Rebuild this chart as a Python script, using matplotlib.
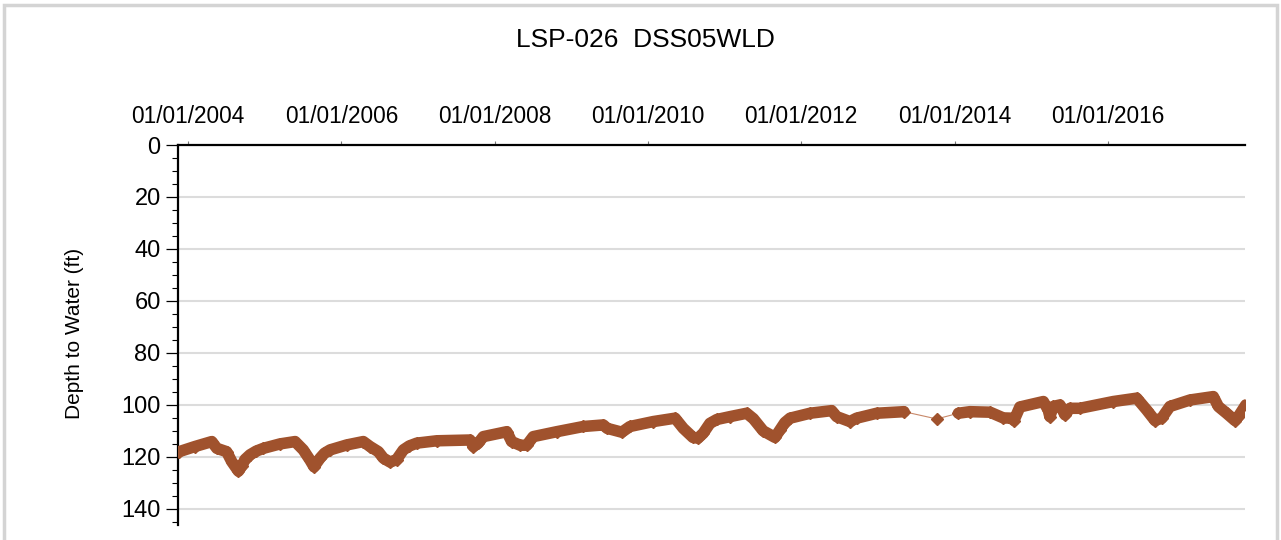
import matplotlib
matplotlib.use('Agg')
import matplotlib.pyplot as plt
import matplotlib.dates as mdates
from matplotlib.ticker import MultipleLocator
from matplotlib.patches import Rectangle
import pandas as pd

plt.rcParams['font.family'] = ['Liberation Sans', 'DejaVu Sans']

title = 'LSP-026  DSS05WLD'
y_label = 'Depth to Water (ft)'

# continuous record up to spring 2013
dates_a = ['2003-11-19', '2004-02-03', '2004-04-23', '2004-05-17', '2004-07-03',
           '2004-07-27', '2004-08-28', '2004-09-13', '2004-09-28', '2004-10-22',
           '2004-11-20', '2004-12-25', '2005-03-14', '2005-05-25', '2005-07-03',
           '2005-08-04', '2005-08-23', '2005-09-21', '2005-10-12', '2005-11-08',
           '2006-01-26', '2006-04-15', '2006-05-17', '2006-06-26', '2006-07-20',
           '2006-08-21', '2006-09-21', '2006-10-23', '2006-11-20', '2006-12-26',
           '2007-03-31', '2007-09-06', '2007-09-22', '2007-10-14', '2007-11-08',
           '2008-02-28', '2008-03-22', '2008-05-01', '2008-06-02', '2008-07-03',
           '2008-10-23', '2009-02-27', '2009-06-02', '2009-06-20', '2009-08-29',
           '2009-10-07', '2010-01-26', '2010-05-10', '2010-06-18', '2010-08-03',
           '2010-08-27', '2010-09-21', '2010-10-23', '2010-11-25', '2011-01-27',
           '2011-04-16', '2011-05-18', '2011-07-04', '2011-08-29', '2011-09-22',
           '2011-10-15', '2011-11-09', '2012-02-12', '2012-05-25', '2012-06-18',
           '2012-08-20', '2012-09-21', '2012-12-26', '2013-05-05']
depth_a = [118.0, 116.0, 114.1, 116.7, 118.0,
           121.8, 125.5, 123.5, 121.0, 119.2,
           117.8, 116.7, 115.0, 114.1, 117.3,
           121.2, 123.8, 120.5, 118.6, 117.3,
           115.4, 114.1, 116.0, 118.0, 120.5,
           122.0, 121.0, 117.3, 115.8, 114.7,
           113.8, 113.5, 116.0, 114.8, 112.2,
           110.3, 114.1, 115.5, 115.5, 112.2,
           110.3, 108.3, 107.7, 109.0, 110.5,
           108.3, 106.4, 105.1, 109.0, 112.5,
           112.8, 110.9, 107.1, 105.6, 104.5,
           103.2, 105.3, 110.0, 112.5, 109.6,
           106.8, 105.1, 103.2, 102.2, 104.5,
           106.4, 105.1, 103.2, 102.6]

# single reading in the gap
dates_gap = ['2013-10-08']
depth_gap = [105.4]

# continuous record from 2014
dates_b = ['2014-01-19', '2014-03-15', '2014-06-19', '2014-08-21', '2014-09-30',
           '2014-10-11', '2014-11-08', '2015-02-28', '2015-03-23', '2015-03-31',
           '2015-04-16', '2015-05-18', '2015-06-11', '2015-07-05', '2015-08-21',
           '2016-01-27', '2016-05-18', '2016-07-04', '2016-08-13', '2016-09-14',
           '2016-10-23', '2017-01-27', '2017-05-18', '2017-06-11', '2017-07-20',
           '2017-08-29', '2017-09-14', '2017-10-20']
depth_b = [103.2, 102.6, 102.8, 105.0, 105.1,
           106.0, 100.8, 98.7, 101.9, 104.5,
           100.6, 100.0, 103.8, 101.3, 101.3,
           98.7, 97.4, 101.9, 106.0, 105.1,
           100.6, 98.1, 96.8, 100.6, 103.2,
           106.0, 104.5, 100.0]

x_ticks = ['2004-01-01', '2006-01-01', '2008-01-01', '2010-01-01',
           '2012-01-01', '2014-01-01', '2016-01-01']
y_ticks = [0, 20, 40, 60, 80, 100, 120, 140]

brown = '#a0522d'

da = pd.to_datetime(dates_a)
dg = pd.to_datetime(dates_gap)
db = pd.to_datetime(dates_b)
all_dates = da.append(dg).append(db)
all_depth = depth_a + depth_gap + depth_b

fig = plt.figure(figsize=(12.81, 5.40), dpi=100)
ax = fig.add_axes([178 / 1281, 15 / 540, 1067 / 1281, 380 / 540])

# thin connecting line, then the dense records drawn heavy
ax.plot(all_dates, all_depth, color='#c8896a', lw=0.8, zorder=3)
for d, v in ((da, depth_a), (db, depth_b)):
    ax.plot(d, v, color=brown, lw=8.3, solid_joinstyle='round',
            solid_capstyle='round', zorder=4)
ax.plot(all_dates, all_depth, ls='none', marker='D', ms=6.5, color=brown,
        mec=brown, zorder=5)

ax.set_ylim(146.2, 0)
ax.set_xlim(pd.Timestamp('2003-11-14'), pd.Timestamp('2017-10-16'))

ax.set_yticks(y_ticks)
ax.yaxis.set_minor_locator(MultipleLocator(5))
ax.yaxis.grid(True, color='#dcdcdc', lw=1.5)
ax.set_axisbelow(True)

ax.xaxis.tick_top()
ax.set_xticks(pd.to_datetime(x_ticks))
ax.xaxis.set_major_formatter(mdates.DateFormatter('%m/%d/%Y'))
ax.tick_params(axis='x', which='both', length=3, width=0.8, color='#777777',
               labelsize=16.3, pad=9, direction='out')
ax.tick_params(axis='x', which='minor', length=0)
ax.tick_params(axis='y', which='major', length=8.5, width=0.9, labelsize=17,
               pad=4)
ax.tick_params(axis='y', which='minor', length=4.3, width=0.8)

for side in ('right', 'bottom'):
    ax.spines[side].set_visible(False)
for side in ('top', 'left'):
    ax.spines[side].set_linewidth(1.6)

fig.text(645 / 1281, 1 - 40 / 540, title, ha='center', va='center',
         fontsize=19)
fig.text(75 / 1281, 1 - 333 / 540, y_label, ha='center', va='center',
         rotation=90, fontsize=15)

# panel frame, open at the bottom edge of the picture
fig.patches.append(Rectangle((4 / 1281, -0.05), 1273 / 1281, 1.05 - 5 / 540,
                             transform=fig.transFigure, fill=False,
                             edgecolor='#d4d4d4', lw=2.5))

fig.savefig('out.png', dpi=100)
